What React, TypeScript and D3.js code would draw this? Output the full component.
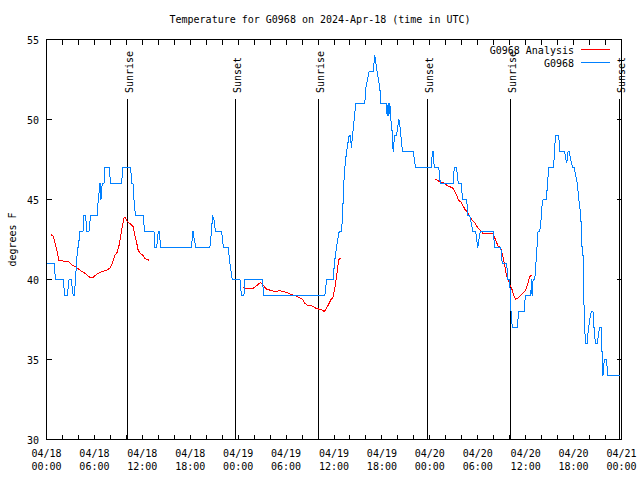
import React from "react";
import * as d3 from "d3";

// hours since 2024-04-18 00:00 UTC, temperature (deg F)
const observed: [number, number][] = [
  [0,41],[0.94,41],[1.13,40],[2.10,40],[2.28,39],[2.60,39],[2.82,40],[3.10,40],[3.35,39],[3.48,39],[3.63,40],[3.75,41],[3.90,42],[3.98,42],[4.19,43],[4.57,43],[4.69,44],[4.91,44],[5.03,43],[5.32,43],[5.51,44],[6.36,44],[6.48,45],[6.70,46],[6.82,45],[6.98,46],[7.20,46],[7.32,47],[7.86,47],[8.01,46],[9.41,46],[9.54,47],[10.54,47],[10.66,46],[10.83,46],[10.95,45],[11.14,44],[12.12,44],[12.27,43],[13.46,43],[13.59,42],[13.80,42],[14.00,43],[14.12,43],[14.30,42],[18.18,42],[18.28,43],[18.38,43],[18.47,42.6],[18.72,42],[20.46,42],[20.65,43],[20.80,44],[21.0,43.7],[21.15,43],[21.93,43],[22.15,42],[22.75,42],[22.97,41],[23.25,40],[24.22,40],[24.41,39],[24.72,39],[24.84,40],[27.01,40],[27.22,39],[34.86,39],[35.07,40],[35.90,40],[36.05,41],[36.30,42],[36.65,43],[36.95,43],[37.07,44],[37.15,45],[37.23,46],[37.36,47],[37.57,48],[37.90,49],[38.07,49],[38.17,48.2],[38.32,49],[38.52,50],[38.73,51],[39.86,51],[39.99,52],[40.40,53],[40.90,53],[41.11,54],[41.40,53],[41.74,52],[41.86,51],[42.58,51],[42.65,50.2],[42.78,51],[42.86,50.2],[42.99,51],[43.12,50],[43.33,49],[43.40,48],[43.49,48.5],[43.62,49],[43.83,49],[44.12,50],[44.24,49.7],[44.37,49],[44.58,48],[45.91,48],[46.21,47],[48.21,47],[48.31,48],[48.41,48],[48.56,47],[49.12,47],[49.31,46],[50.91,46],[51.06,47],[51.34,47],[51.56,46],[51.94,46],[52.09,45],[52.63,45],[52.72,44],[53.00,44],[53.38,43],[53.75,43],[54.00,42],[54.20,42.7],[54.34,43],[55.92,43],[56.13,42],[56.88,42],[57.07,41],[57.63,41],[57.76,40],[58.01,40],[58.10,38.5],[58.32,37],[58.97,37],[59.10,38],[59.80,38],[59.97,39],[60.64,39],[60.73,40],[60.80,39],[60.93,40],[61.14,40],[61.35,41.5],[61.48,42.5],[61.55,43],[61.76,43],[61.89,43.5],[62.05,44.6],[62.18,45],[62.60,45],[62.73,46],[62.89,47],[63.43,47],[63.56,47.5],[63.73,49],[64.14,49],[64.27,48],[64.89,48],[65.02,47.5],[65.15,47.3],[65.31,48],[65.43,48],[65.73,47.3],[65.86,47],[66.06,47],[66.27,46.5],[66.48,46],[66.65,45],[66.90,44],[67.06,42],[67.18,41.5],[67.31,38.3],[67.40,37],[67.48,36],[67.73,36],[67.81,36.7],[68.02,37.5],[68.23,38],[68.43,38],[68.56,37],[68.73,36],[68.98,36],[69.15,36.7],[69.27,37],[69.48,37],[69.56,35.5],[69.68,34],[69.81,34.8],[69.90,35],[70.11,35],[70.31,34],[71.84,34]
];

const analysis: [number, number | null][] = [
  [0.60,42.8],[0.85,42.7],[1.15,42.1],[1.35,41.7],[1.56,41.2],[2.19,41.15],[2.82,41.1],[3.23,40.9],[3.65,40.8],[4.28,40.55],[4.69,40.45],[5.11,40.25],[5.53,40.1],[5.86,40.15],[6.36,40.35],[6.98,40.5],[7.61,40.6],[7.91,40.7],[8.24,41.0],[8.54,41.5],[8.86,41.7],[9.07,42.1],[9.29,42.7],[9.49,43.3],[9.70,43.85],[9.91,43.85],[10.16,43.6],[10.45,43.5],[10.86,43.3],[11.08,42.7],[11.29,42.3],[11.49,41.8],[11.83,41.6],[12.12,41.5],[12.33,41.3],[12.87,41.2],
  [18, null],
  [24.56,39.5],[25.06,39.45],[25.89,39.45],[26.51,39.7],[26.81,39.8],[27.10,39.65],[27.56,39.4],[28.19,39.3],[28.60,39.25],[29.23,39.3],[29.64,39.25],[30.27,39.15],[30.69,39.05],[31.10,39.0],[32.08,38.75],[32.37,38.5],[32.66,38.4],[33.21,38.35],[33.74,38.2],[34.46,38.1],[34.81,38.0],[35.28,38.4],[35.62,38.75],[35.90,38.9],[36.11,39.5],[36.32,40.2],[36.52,41.0],[36.65,41.3],[36.86,41.3],
  [42, null],
  [48.62,46.3],[48.96,46.2],[49.21,46.1],[49.66,46.05],[50.09,45.9],[50.50,45.8],[50.92,45.7],[51.34,45.3],[51.54,45.0],[51.96,44.8],[52.38,44.4],[52.72,44.2],[53.22,43.75],[53.63,43.55],[54.05,43.2],[54.47,43.0],[54.67,42.85],[55.10,42.85],[55.51,42.9],[55.92,42.9],[56.13,42.6],[56.54,42.1],[56.88,42.0],[57.17,41.4],[57.38,40.85],[57.59,40.3],[57.79,40.0],[58.00,39.7],[58.22,39.5],[58.42,39.15],[58.72,38.75],[59.05,38.85],[59.47,39.05],[59.97,39.3],[60.30,39.8],[60.51,40.2],[60.80,40.25]
];

const sunEvents: [number, string][] = [
  [10.12, "Sunrise"], [23.67, "Sunset"], [34.10, "Sunrise"],
  [47.68, "Sunset"], [58.08, "Sunrise"], [71.70, "Sunset"]
];

const yTicks = [30, 35, 40, 45, 50, 55];
const title = "Temperature for G0968 on 2024-Apr-18 (time in UTC)";
const yLabel = "degrees F";
const seriesNames = ["G0968 Analysis", "G0968"];
const colors = ["#ff0000", "#0080ff"];

const START = Date.UTC(2024, 3, 18);
const HOUR = 3600e3;
const toDate = (h: number) => new Date(START + h * HOUR);

export default function App() {
  const W = 640, H = 480;
  const left = 46.5, right = 621.5, top = 39.5, bottom = 439.5;
  const x = d3.scaleUtc().domain([toDate(0), toDate(72)]).range([left, right]);
  const y = d3.scaleLinear().domain([30, 55]).range([bottom, top]);
  const font = "'DejaVu Sans Mono', monospace";
  const fs = 10;

  const obsLine = d3.line<[number, number]>()
    .x(d => x(toDate(d[0])))
    .y(d => y(d[1]));
  const anaLine = d3.line<[number, number | null]>()
    .defined(d => d[1] != null)
    .x(d => x(toDate(d[0])))
    .y(d => y(d[1] as number));

  const minorTicks = x.ticks(d3.utcHour.every(2) as any);
  const majorTicks = x.ticks(d3.utcHour.every(6) as any);
  const fmtDate = d3.utcFormat("%m/%d");
  const fmtTime = d3.utcFormat("%H:%M");
  const px = (v: number) => Math.round(v) + 0.5;

  return (
    <svg width={W} height={H} style={{ position: "absolute", left: 0, top: 0, background: "#fff" }}
      fontFamily={font} fontSize={fs}>
      <rect x={0} y={0} width={W} height={H} fill="#fff" />
      <text x={320} y={23} textAnchor="middle">{title}</text>

      {/* x ticks */}
      {minorTicks.map((t, i) => {
        const xx = px(x(t) - 0.5);
        return (
          <g key={"xt" + i} stroke="#000" shapeRendering="crispEdges">
            <line x1={xx} x2={xx} y1={bottom} y2={bottom - 5} />
            <line x1={xx} x2={xx} y1={top} y2={top + 5} />
          </g>
        );
      })}
      {majorTicks.map((t, i) => (
        <g key={"xl" + i}>
          <text x={x(t)} y={457} textAnchor="middle">{fmtDate(t)}</text>
          <text x={x(t)} y={470} textAnchor="middle">{fmtTime(t)}</text>
        </g>
      ))}

      {/* y ticks */}
      {yTicks.map((v, i) => (
        <g key={"yt" + i}>
          <line x1={left} x2={left + 5} y1={y(v)} y2={y(v)} stroke="#000" shapeRendering="crispEdges" />
          <line x1={right} x2={right - 5} y1={y(v)} y2={y(v)} stroke="#000" shapeRendering="crispEdges" />
          <text x={39} y={y(v) + 4} textAnchor="end">{v}</text>
        </g>
      ))}
      <text transform={`translate(16,${(top + bottom) / 2}) rotate(-90)`} textAnchor="middle">{yLabel}</text>

      {/* sunrise / sunset */}
      {sunEvents.map(([h, label], i) => {
        const xx = px(x(toDate(h)) - 0.5);
        return (
          <g key={"sun" + i}>
            <line x1={xx} x2={xx} y1={99} y2={bottom} stroke="#000" shapeRendering="crispEdges" />
            <text transform={`translate(${xx + 5},93) rotate(-90)`} textAnchor="start">{label}</text>
          </g>
        );
      })}

      <path d={anaLine(analysis) || ""} fill="none" stroke={colors[0]} strokeWidth={1} shapeRendering="crispEdges" />
      <path d={obsLine(observed) || ""} fill="none" stroke={colors[1]} strokeWidth={1} shapeRendering="crispEdges" />

      {/* legend */}
      {seriesNames.map((name, i) => (
        <g key={"lg" + i}>
          <text x={574} y={53.5 + i * 13} textAnchor="end">{name}</text>
          <line x1={581} x2={610} y1={49.5 + i * 13} y2={49.5 + i * 13} stroke={colors[i]} shapeRendering="crispEdges" />
        </g>
      ))}

      <rect x={left} y={top} width={right - left} height={bottom - top} fill="none" stroke="#000" shapeRendering="crispEdges" />
    </svg>
  );
}
